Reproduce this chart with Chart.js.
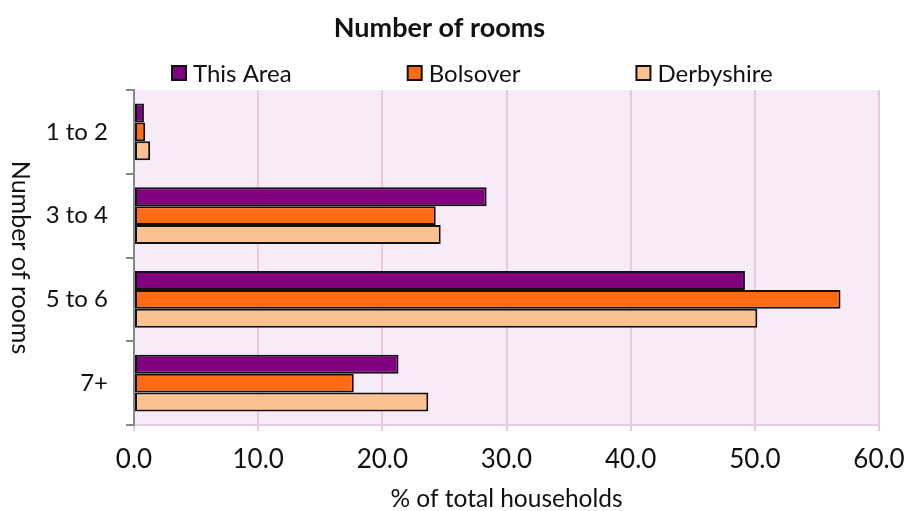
<!DOCTYPE html>
<html>
<head>
<meta charset="utf-8">
<script src="https://cdn.jsdelivr.net/npm/chart.js@4/dist/chart.umd.min.js"></script>
<style>
  html, body { margin: 0; padding: 0; background: #fff; }
  #wrap { width: 905px; height: 511px; }
</style>
</head>
<body>
<div id="wrap"><canvas id="roomsChart"></canvas></div>
<script>
    const categories = ['1 to 2', '3 to 4', '5 to 6', '7+'];
    const seriesNames = ['This Area', 'Bolsover', 'Derbyshire'];
    const thisArea = [0.8, 28.4, 49.2, 21.3];
    const bolsover = [0.9, 24.3, 56.9, 17.7];
    const derbyshire = [1.3, 24.7, 50.2, 23.7];
    const xTicks = [0, 10, 20, 30, 40, 50, 60];

    const seriesColors = ['#800080', '#FF6A14', '#FAC291'];
    const FONT = 'Lato, "Open Sans", sans-serif';
    const gridPink = '#E6CAE6';

    // plot background + custom legend + y title (reads top to bottom)
    const decorPlugin = {
        id: 'decor',
        beforeDraw(chart) {
            const a = chart.chartArea;
            const c = chart.ctx;
            c.save();
            c.fillStyle = '#F6EBF6';
            c.fillRect(a.left, a.top, a.right - a.left, a.bottom - a.top);
            c.restore();
        },
        afterDraw(chart) {
            const c = chart.ctx;
            const a = chart.chartArea;
            c.save();
            // legend
            c.font = '24px ' + FONT;
            c.textBaseline = 'middle';
            let x = 172;
            const y = 73;
            chart.data.datasets.forEach(function(ds) {
                c.fillStyle = ds.backgroundColor;
                c.fillRect(x, y - 7, 14, 14);
                c.lineWidth = 2;
                c.strokeStyle = '#111';
                c.strokeRect(x, y - 7, 14, 14);
                c.fillStyle = '#111';
                c.fillText(ds.label, x + 21, y + 1);
                x += 21 + c.measureText(ds.label).width + 116;
            });
            // y axis title
            c.translate(20, (a.top + a.bottom) / 2);
            c.rotate(Math.PI / 2);
            c.font = '25px ' + FONT;
            c.textAlign = 'center';
            c.fillText('Number of rooms', 0, 0);
            c.restore();
        }
    };

    const chartData = {
        labels: categories,
        datasets: [thisArea, bolsover, derbyshire].map(function(vals, i) {
            return {
                label: seriesNames[i],
                data: vals,
                backgroundColor: seriesColors[i],
                borderColor: '#111',
                borderWidth: 2,
                borderSkipped: false,
                categoryPercentage: 0.68,
                barPercentage: 1.0
            };
        })
    };

    const chartOptions = {
        indexAxis: 'y',
        responsive: true,
        maintainAspectRatio: false,
        animation: false,
        layout: { padding: { left: 0, right: 26, top: 0, bottom: 0 } },
        scales: {
            x: {
                min: 0,
                max: 60,
                afterBuildTicks: function(scale) {
                    scale.ticks = xTicks.map(function(v) { return { value: v }; });
                },
                afterFit: function(scale) {
                    scale.height = 86;
                    scale.paddingLeft = 0;
                    scale.paddingRight = 0;
                },
                ticks: {
                    padding: 13,
                    color: '#111',
                    font: { family: FONT, size: 26 },
                    callback: function(value) { return Number(value).toFixed(1); }
                },
                grid: {
                    color: gridPink,
                    lineWidth: 2,
                    tickLength: 6
                },
                border: { color: gridPink, width: 2 },
                title: {
                    display: true,
                    text: '% of total households',
                    color: '#111',
                    font: { family: FONT, size: 24.5 },
                    padding: { top: 0, bottom: -3 }
                }
            },
            y: {
                afterFit: function(scale) { scale.width = 134; },
                ticks: {
                    padding: 18,
                    color: '#111',
                    font: { family: FONT, size: 24 }
                },
                grid: {
                    drawOnChartArea: false,
                    drawTicks: true,
                    tickLength: 8,
                    color: '#888',
                    lineWidth: 2
                },
                border: { color: '#888', width: 2 }
            }
        },
        plugins: {
            legend: { display: false },
            tooltip: { enabled: false },
            title: {
                display: true,
                text: 'Number of rooms',
                color: '#111',
                font: { family: FONT, size: 27, weight: 'bold' },
                padding: { top: 12, bottom: 45.6 }
            }
        }
    };

    const ctxRooms = document.getElementById('roomsChart').getContext('2d');
    const roomsChart = new Chart(ctxRooms, {
        type: 'bar',
        data: chartData,
        options: chartOptions,
        plugins: [decorPlugin]
    });
</script>
</body>
</html>
